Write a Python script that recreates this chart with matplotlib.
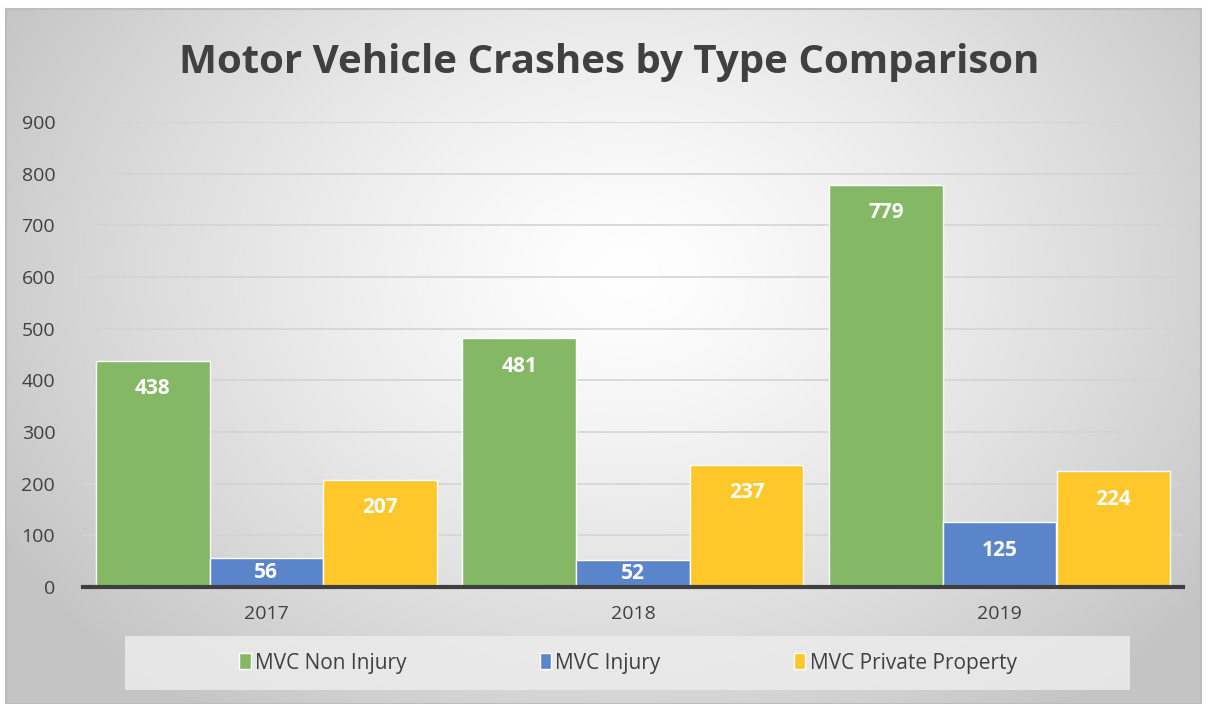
import numpy as np
import matplotlib.pyplot as plt
from matplotlib.patches import Rectangle

plt.rcParams['font.family'] = ['Open Sans', 'DejaVu Sans']

years = ['2017', '2018', '2019']
series_names = ['MVC Non Injury', 'MVC Injury', 'MVC Private Property']
non_injury = [438, 481, 779]
injury = [56, 52, 125]
private_property = [207, 237, 224]
colors = ['#84b864', '#5b85cb', '#ffc72a']
yticks = [0, 100, 200, 300, 400, 500, 600, 700, 800, 900]

W, H = 1207, 704
fig = plt.figure(figsize=(W / 100, H / 100), dpi=100)
fig.patch.set_facecolor('white')

# chart area with radial gradient background
bx0, by0, bx1, by1 = 6, 9, 1201, 704
bg = fig.add_axes([bx0 / W, 1 - by1 / H, (bx1 - bx0) / W, (by1 - by0) / H])
gx, gy = np.meshgrid(np.linspace(0, 1, 400), np.linspace(0, 1, 300))
cx, cy = 0.52, 0.62
r = np.sqrt(((gx - cx) * 1.0) ** 2 + ((gy - cy) * 0.75) ** 2) / 0.6
r = np.clip(r, 0, 1)
shade = 1.0 - 0.23 * r ** 1.3
bg.imshow(np.dstack([shade] * 3), aspect='auto', extent=[0, 1, 0, 1], origin='lower')
bg.set_xlim(0, 1)
bg.set_ylim(0, 1)
bg.set_xticks([])
bg.set_yticks([])
for s in bg.spines.values():
    s.set_color('#bdbdbd')
    s.set_linewidth(1.5)

# plot area
ax = fig.add_axes([83 / W, 1 - 587 / H, 1100 / W, 465 / H])
ax.set_facecolor('none')
x = np.arange(len(years))
w = 0.31
all_series = [non_injury, injury, private_property]
for i, (vals, name, c) in enumerate(zip(all_series, series_names, colors)):
    bars = ax.bar(x + (i - 1) * w, vals, width=w, color=c, edgecolor='white',
                  linewidth=1, label=name, zorder=3)
    for b, v in zip(bars, vals):
        h_pt = v * (465 / 900) * 0.72
        off = min(20, h_pt / 2)
        ax.annotate(str(v), (b.get_x() + b.get_width() / 2, v), xytext=(0, -off),
                    textcoords='offset points', ha='center', va='center',
                    color='white', fontsize=15, fontweight='bold', zorder=4)

ax.set_xlim(-0.5, 2.5)
ax.set_ylim(0, 900)
ax.set_yticks(yticks)
ax.set_xticks(x)
ax.set_xticklabels(years)
ax.yaxis.grid(True, color='#d4d4d4', linewidth=1.2, zorder=0)
ax.set_axisbelow(True)
for s in ['top', 'right', 'left']:
    ax.spines[s].set_visible(False)
ax.spines['bottom'].set_color('#3f3f3f')
ax.spines['bottom'].set_linewidth(3)
ax.spines['bottom'].set_zorder(5)
ax.tick_params(axis='both', length=0, labelsize=14, labelcolor='#404040')
ax.tick_params(axis='x', pad=13)
ax.tick_params(axis='y', pad=20)

fig.text(609 / W, 1 - 62 / H, 'Motor Vehicle Crashes by Type Comparison',
         ha='center', va='center', fontsize=29, fontweight='bold', color='#404040')

# legend box
fig.patches.append(Rectangle((125 / W, 1 - 690 / H), 1005 / W, 54 / H,
                             transform=fig.transFigure, facecolor='#ececec',
                             edgecolor='none', alpha=0.85, zorder=1))
leg = fig.legend(loc='center', bbox_to_anchor=(628 / W, 1 - 663 / H), ncol=3,
                 frameon=False, fontsize=15, handlelength=0.55, handleheight=0.8,
                 handletextpad=0.2, columnspacing=6.4)
for t in leg.get_texts():
    t.set_color('#404040')

fig.savefig('out.png', dpi=100)
